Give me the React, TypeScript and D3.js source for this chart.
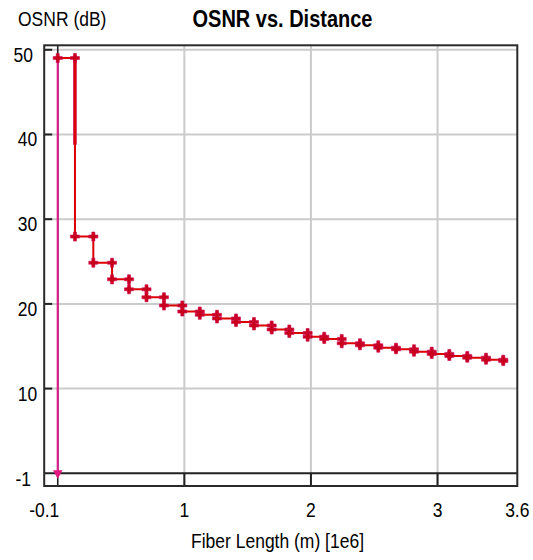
import React from "react";
import * as d3 from "d3";

// ---- data ----
const spanEndX = [0.136, 0.281, 0.429, 0.563, 0.701, 0.839, 0.984, 1.122, 1.258, 1.408, 1.55, 1.69, 1.829, 1.974, 2.105, 2.243, 2.387, 2.532, 2.672, 2.814, 2.954, 3.093, 3.235, 3.383, 3.519];
const osnrLevels = [49.03, 27.95, 24.86, 22.9, 21.72, 20.78, 19.81, 19.1, 18.71, 18.28, 17.86, 17.45, 16.98, 16.56, 16.12, 15.86, 15.35, 15.11, 14.83, 14.64, 14.36, 14.09, 13.85, 13.65, 13.41, 13.25];
const launchX = [0, 0];
const launchY = [49.03, -0.1];
const overlapX = [0.136, 0.136];
const overlapY = [49.03, 38.8];

const xDomain = [-0.107, 3.63];
const yDomain = [-1.5, 50.53];
const xGridValues = [1, 2, 3];
const yGridValues = [10, 20, 30, 40, 50];
const xTickLabels = ["-0.1", "1", "2", "3", "3.6"];
const xTickLabelValues = [-0.107, 1, 2, 3, 3.63];
const yTickLabels = ["-1", "10", "20", "30", "40", "50"];
const yTickLabelValues = [-1.5, 10, 20, 30, 40, 50];

const title = "OSNR vs. Distance";
const xTitle = "Fiber Length (m) [1e6]";
const yTitle = "OSNR (dB)";

const W = 533;
const H = 560;
const L = 44.2, R = 517.3, T = 45.3, B = 486;
const FONT = "'Liberation Sans', Arial, sans-serif";

export default function App() {
  const x = d3.scaleLinear().domain(xDomain).range([L, R]);
  const y = d3.scaleLinear().domain(yDomain).range([B, T]);

  const redPts: [number, number][] = [[0, osnrLevels[0]]];
  spanEndX.forEach((sx, i) => {
    redPts.push([sx, osnrLevels[i]]);
    redPts.push([sx, osnrLevels[i + 1]]);
  });
  const line = d3.line<[number, number]>().x((d) => x(d[0])).y((d) => y(d[1]));
  const launchPts: [number, number][] = launchX.map((v, i) => [v, launchY[i]]);
  const overlapPts: [number, number][] = overlapX.map((v, i) => [v, overlapY[i]]);

  const cross = d3.symbol().type(d3.symbolCross).size(46)() as string;
  const diamond = d3.symbol().type(d3.symbolDiamond).size(26)() as string;
  const tri = d3.symbol().type(d3.symbolTriangle).size(40)() as string;

  const textStyle = { fontFamily: FONT, fontSize: 17.5, fill: "#000" } as const;

  return (
    <svg width={W} height={H} style={{ position: "absolute", left: 0, top: 0, background: "#fff" }}>
      <rect x={0} y={0} width={W} height={H} fill="#fff" />
      {/* grid */}
      {xGridValues.map((v) => (
        <line key={"gx" + v} x1={x(v)} x2={x(v)} y1={T} y2={B} stroke="#cbcbcb" strokeWidth={2} />
      ))}
      {yGridValues.map((v) => (
        <line key={"gy" + v} x1={L} x2={R} y1={y(v)} y2={y(v)} stroke="#cbcbcb" strokeWidth={2} />
      ))}
      {/* zero lines */}
      <line x1={L} x2={R} y1={y(0)} y2={y(0)} stroke="#222" strokeWidth={2} />
      <line x1={x(0)} x2={x(0)} y1={T} y2={B} stroke="#222" strokeWidth={1.6} />
      {/* ticks */}
      {yGridValues.map((v) => (
        <line key={"ty" + v} x1={L} x2={L + 8} y1={y(v)} y2={y(v)} stroke="#222" strokeWidth={2} />
      ))}
      {xGridValues.map((v) => (
        <line key={"tx" + v} x1={x(v)} x2={x(v)} y1={B} y2={B - 13} stroke="#222" strokeWidth={2} />
      ))}
      {/* frame */}
      <rect x={L} y={T} width={R - L} height={B - T} fill="none" stroke="#2a2a2a" strokeWidth={2} />

      {/* series */}
      <path d={line(launchPts) || ""} fill="none" stroke="#e2188a" strokeWidth={2} />
      <path d={line(overlapPts) || ""} fill="none" stroke="#d3104a" strokeWidth={3.6} />
      <path d={line(redPts) || ""} fill="none" stroke="#dd0000" strokeWidth={2} />
      <path
        d={tri}
        transform={`translate(${x(launchPts[1][0])},${y(launchPts[1][1]) - 1}) rotate(180)`}
        fill="#e0167e"
      />
      {redPts.map((p, i) => (
        <g key={"m" + i} transform={`translate(${x(p[0])},${y(p[1])})`}>
          <path d={cross} fill="#c8001e" stroke="#d0105a" strokeWidth={0.6} />
          <path d={diamond} fill="#c8001e" />
        </g>
      ))}

      {/* texts */}
      <g transform={`translate(18,26) scale(1,1.15)`}>
        <text style={textStyle} x={0} y={0}>{yTitle}</text>
      </g>
      <g transform={`translate(282.5,27) scale(1,1.17)`}>
        <text x={0} y={0} textAnchor="middle" style={{ fontFamily: FONT, fontSize: 20, fontWeight: "bold", fill: "#000" }}>
          {title}
        </text>
      </g>
      <g transform={`translate(277.5,548) scale(1,1.2)`}>
        <text style={textStyle} x={0} y={0} textAnchor="middle">{xTitle}</text>
      </g>
      {xTickLabels.map((t, i) => (
        <g key={"xl" + i} transform={`translate(${x(xTickLabelValues[i])},517) scale(1,1.2)`}>
          <text style={textStyle} x={0} y={0} textAnchor="middle">{t}</text>
        </g>
      ))}
      {yTickLabels.map((t, i) => {
        const edge = i === 0 || i === yTickLabels.length - 1;
        const cx = edge ? 23.3 : 27.5;
        const by = i === 0 ? y(yTickLabelValues[i]) : y(yTickLabelValues[i]) + 12;
        return (
          <g key={"yl" + i} transform={`translate(${cx},${by}) scale(1,1.2)`}>
            <text style={textStyle} x={0} y={0} textAnchor="middle">{t}</text>
          </g>
        );
      })}
    </svg>
  );
}
